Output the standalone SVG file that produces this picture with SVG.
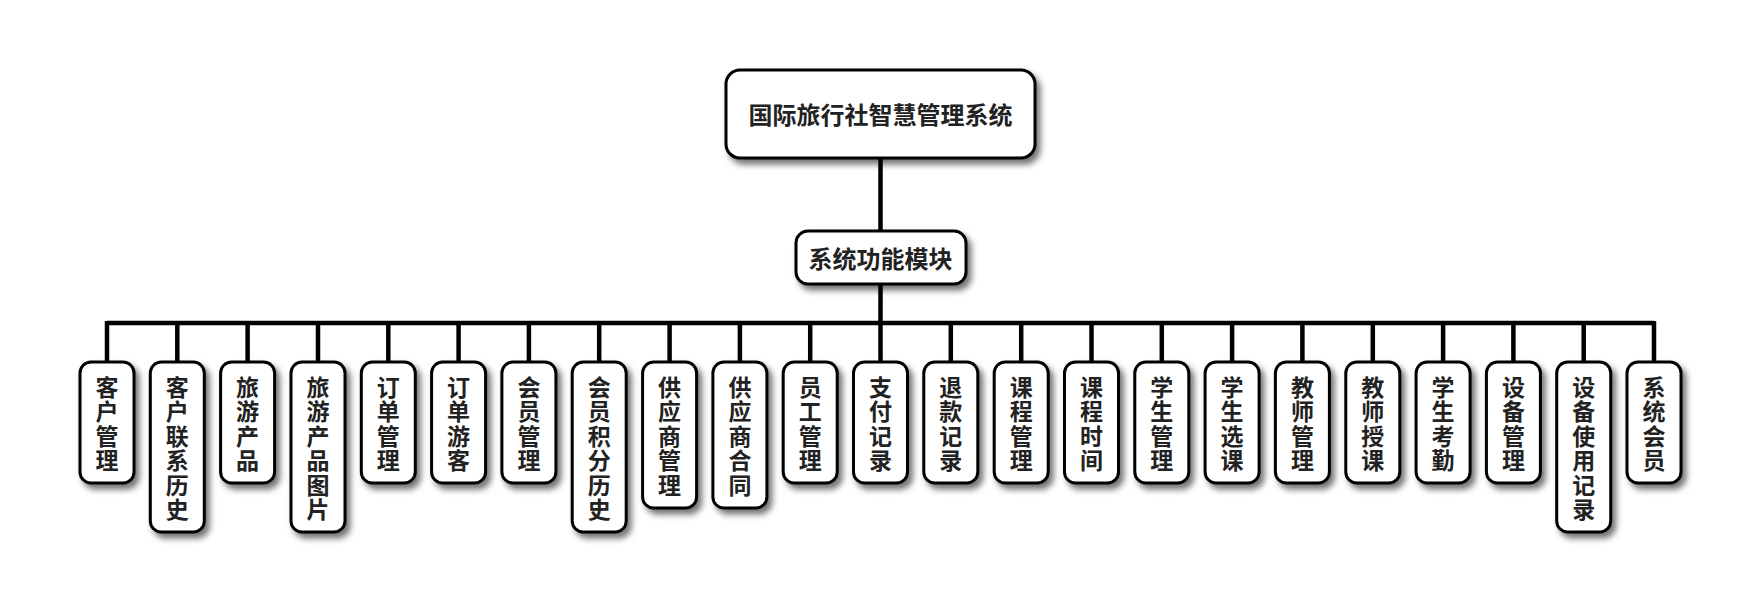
<svg xmlns="http://www.w3.org/2000/svg" width="1761" height="607" viewBox="0 0 1761 607">
<defs>
<filter id="sh" x="-30%" y="-30%" width="160%" height="160%">
<feDropShadow dx="4" dy="5" stdDeviation="3" flood-color="#000" flood-opacity="0.55"/>
</filter>
<style>
.box{fill:#fff;stroke:#000;stroke-width:3;filter:url(#sh)}
.t{font-family:"Noto Sans CJK SC","Noto Sans",sans-serif;font-weight:bold;font-size:23px;fill:#222;text-anchor:middle}
.big{font-size:24px}
.ln{stroke:#000;stroke-width:4.5;fill:none}
</style>
</defs>
<g id="connectors">
<path class="ln" d="M880.5 158V231M880.5 284V323M107 323H1654"/>
<path class="ln" d="M107 321V362M177.3 321V362M247.6 321V362M318 321V362M388.3 321V362M458.6 321V362M528.9 321V362M599.2 321V362M669.6 321V362M739.9 321V362M810.2 321V362M880.5 321V362M950.8 321V362M1021.2 321V362M1091.5 321V362M1161.8 321V362M1232.1 321V362M1302.4 321V362M1372.8 321V362M1443.1 321V362M1513.4 321V362M1583.7 321V362M1654 321V362"/>
</g>
<g id="root"><rect class="box" x="726" y="70" width="309" height="88" rx="14"/><text class="t big" x="880.5" y="124">国际旅行社智慧管理系统</text></g>
<g id="modules"><rect class="box" x="796" y="231" width="170" height="53" rx="12"/><text class="t big" x="880.5" y="268">系统功能模块</text></g>
<g id="n0"><rect class="box" x="80" y="362" width="54" height="121" rx="11"/><text class="t"><tspan x="107" y="396">客</tspan><tspan x="107" y="420.4">户</tspan><tspan x="107" y="444.8">管</tspan><tspan x="107" y="469.2">理</tspan></text></g>
<g id="n1"><rect class="box" x="150.3" y="362" width="54" height="170" rx="11"/><text class="t"><tspan x="177.3" y="396">客</tspan><tspan x="177.3" y="420.4">户</tspan><tspan x="177.3" y="444.8">联</tspan><tspan x="177.3" y="469.2">系</tspan><tspan x="177.3" y="493.6">历</tspan><tspan x="177.3" y="518">史</tspan></text></g>
<g id="n2"><rect class="box" x="220.6" y="362" width="54" height="121" rx="11"/><text class="t"><tspan x="247.6" y="396">旅</tspan><tspan x="247.6" y="420.4">游</tspan><tspan x="247.6" y="444.8">产</tspan><tspan x="247.6" y="469.2">品</tspan></text></g>
<g id="n3"><rect class="box" x="291" y="362" width="54" height="170" rx="11"/><text class="t"><tspan x="318" y="396">旅</tspan><tspan x="318" y="420.4">游</tspan><tspan x="318" y="444.8">产</tspan><tspan x="318" y="469.2">品</tspan><tspan x="318" y="493.6">图</tspan><tspan x="318" y="518">片</tspan></text></g>
<g id="n4"><rect class="box" x="361.3" y="362" width="54" height="121" rx="11"/><text class="t"><tspan x="388.3" y="396">订</tspan><tspan x="388.3" y="420.4">单</tspan><tspan x="388.3" y="444.8">管</tspan><tspan x="388.3" y="469.2">理</tspan></text></g>
<g id="n5"><rect class="box" x="431.6" y="362" width="54" height="121" rx="11"/><text class="t"><tspan x="458.6" y="396">订</tspan><tspan x="458.6" y="420.4">单</tspan><tspan x="458.6" y="444.8">游</tspan><tspan x="458.6" y="469.2">客</tspan></text></g>
<g id="n6"><rect class="box" x="501.9" y="362" width="54" height="121" rx="11"/><text class="t"><tspan x="528.9" y="396">会</tspan><tspan x="528.9" y="420.4">员</tspan><tspan x="528.9" y="444.8">管</tspan><tspan x="528.9" y="469.2">理</tspan></text></g>
<g id="n7"><rect class="box" x="572.2" y="362" width="54" height="170" rx="11"/><text class="t"><tspan x="599.2" y="396">会</tspan><tspan x="599.2" y="420.4">员</tspan><tspan x="599.2" y="444.8">积</tspan><tspan x="599.2" y="469.2">分</tspan><tspan x="599.2" y="493.6">历</tspan><tspan x="599.2" y="518">史</tspan></text></g>
<g id="n8"><rect class="box" x="642.6" y="362" width="54" height="146" rx="11"/><text class="t"><tspan x="669.6" y="396">供</tspan><tspan x="669.6" y="420.4">应</tspan><tspan x="669.6" y="444.8">商</tspan><tspan x="669.6" y="469.2">管</tspan><tspan x="669.6" y="493.6">理</tspan></text></g>
<g id="n9"><rect class="box" x="712.9" y="362" width="54" height="146" rx="11"/><text class="t"><tspan x="739.9" y="396">供</tspan><tspan x="739.9" y="420.4">应</tspan><tspan x="739.9" y="444.8">商</tspan><tspan x="739.9" y="469.2">合</tspan><tspan x="739.9" y="493.6">同</tspan></text></g>
<g id="n10"><rect class="box" x="783.2" y="362" width="54" height="121" rx="11"/><text class="t"><tspan x="810.2" y="396">员</tspan><tspan x="810.2" y="420.4">工</tspan><tspan x="810.2" y="444.8">管</tspan><tspan x="810.2" y="469.2">理</tspan></text></g>
<g id="n11"><rect class="box" x="853.5" y="362" width="54" height="121" rx="11"/><text class="t"><tspan x="880.5" y="396">支</tspan><tspan x="880.5" y="420.4">付</tspan><tspan x="880.5" y="444.8">记</tspan><tspan x="880.5" y="469.2">录</tspan></text></g>
<g id="n12"><rect class="box" x="923.8" y="362" width="54" height="121" rx="11"/><text class="t"><tspan x="950.8" y="396">退</tspan><tspan x="950.8" y="420.4">款</tspan><tspan x="950.8" y="444.8">记</tspan><tspan x="950.8" y="469.2">录</tspan></text></g>
<g id="n13"><rect class="box" x="994.2" y="362" width="54" height="121" rx="11"/><text class="t"><tspan x="1021.2" y="396">课</tspan><tspan x="1021.2" y="420.4">程</tspan><tspan x="1021.2" y="444.8">管</tspan><tspan x="1021.2" y="469.2">理</tspan></text></g>
<g id="n14"><rect class="box" x="1064.5" y="362" width="54" height="121" rx="11"/><text class="t"><tspan x="1091.5" y="396">课</tspan><tspan x="1091.5" y="420.4">程</tspan><tspan x="1091.5" y="444.8">时</tspan><tspan x="1091.5" y="469.2">间</tspan></text></g>
<g id="n15"><rect class="box" x="1134.8" y="362" width="54" height="121" rx="11"/><text class="t"><tspan x="1161.8" y="396">学</tspan><tspan x="1161.8" y="420.4">生</tspan><tspan x="1161.8" y="444.8">管</tspan><tspan x="1161.8" y="469.2">理</tspan></text></g>
<g id="n16"><rect class="box" x="1205.1" y="362" width="54" height="121" rx="11"/><text class="t"><tspan x="1232.1" y="396">学</tspan><tspan x="1232.1" y="420.4">生</tspan><tspan x="1232.1" y="444.8">选</tspan><tspan x="1232.1" y="469.2">课</tspan></text></g>
<g id="n17"><rect class="box" x="1275.4" y="362" width="54" height="121" rx="11"/><text class="t"><tspan x="1302.4" y="396">教</tspan><tspan x="1302.4" y="420.4">师</tspan><tspan x="1302.4" y="444.8">管</tspan><tspan x="1302.4" y="469.2">理</tspan></text></g>
<g id="n18"><rect class="box" x="1345.8" y="362" width="54" height="121" rx="11"/><text class="t"><tspan x="1372.8" y="396">教</tspan><tspan x="1372.8" y="420.4">师</tspan><tspan x="1372.8" y="444.8">授</tspan><tspan x="1372.8" y="469.2">课</tspan></text></g>
<g id="n19"><rect class="box" x="1416.1" y="362" width="54" height="121" rx="11"/><text class="t"><tspan x="1443.1" y="396">学</tspan><tspan x="1443.1" y="420.4">生</tspan><tspan x="1443.1" y="444.8">考</tspan><tspan x="1443.1" y="469.2">勤</tspan></text></g>
<g id="n20"><rect class="box" x="1486.4" y="362" width="54" height="121" rx="11"/><text class="t"><tspan x="1513.4" y="396">设</tspan><tspan x="1513.4" y="420.4">备</tspan><tspan x="1513.4" y="444.8">管</tspan><tspan x="1513.4" y="469.2">理</tspan></text></g>
<g id="n21"><rect class="box" x="1556.7" y="362" width="54" height="170" rx="11"/><text class="t"><tspan x="1583.7" y="396">设</tspan><tspan x="1583.7" y="420.4">备</tspan><tspan x="1583.7" y="444.8">使</tspan><tspan x="1583.7" y="469.2">用</tspan><tspan x="1583.7" y="493.6">记</tspan><tspan x="1583.7" y="518">录</tspan></text></g>
<g id="n22"><rect class="box" x="1627" y="362" width="54" height="121" rx="11"/><text class="t"><tspan x="1654" y="396">系</tspan><tspan x="1654" y="420.4">统</tspan><tspan x="1654" y="444.8">会</tspan><tspan x="1654" y="469.2">员</tspan></text></g>
</svg>
